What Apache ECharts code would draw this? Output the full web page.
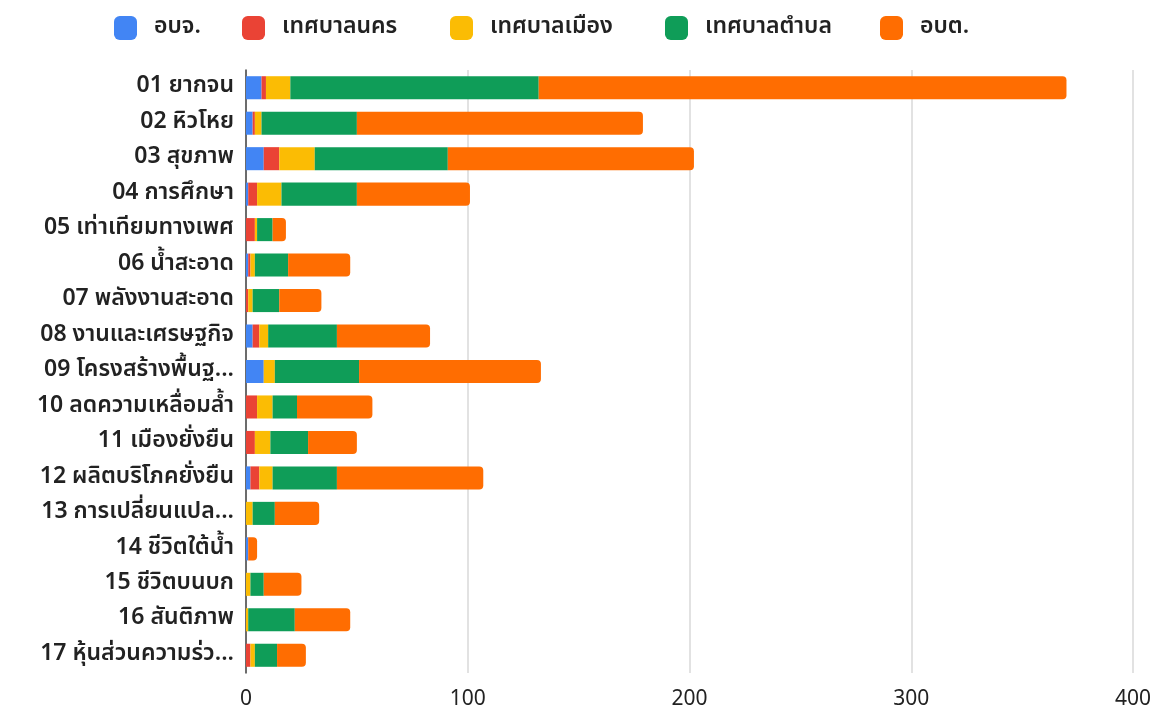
<!DOCTYPE html>
<html>
<head>
<meta charset="utf-8">
<script src="https://cdn.jsdelivr.net/npm/echarts@6/dist/echarts.min.js"></script>
<style>html,body{margin:0;padding:0;background:#fff}#c{width:1157px;height:717px}</style>
</head>
<body>
<div id="c"></div>
<script>
const categories = ["01 ยากจน","02 หิวโหย","03 สุขภาพ","04 การศึกษา","05 เท่าเทียมทางเพศ","06 น้ำสะอาด","07 พลังงานสะอาด","08 งานและเศรษฐกิจ","09 โครงสร้างพื้นฐ...","10 ลดความเหลื่อมล้ำ","11 เมืองยั่งยืน","12 ผลิตบริโภคยั่งยืน","13 การเปลี่ยนแปล...","14 ชีวิตใต้น้ำ","15 ชีวิตบนบก","16 สันติภาพ","17 หุ้นส่วนความร่ว..."];
const seriesNames = ["อบจ.","เทศบาลนคร","เทศบาลเมือง","เทศบาลตำบล","อบต."];
const obj = [7,3,8,1,0,1,0,3,8,0,0,2,0,1,0,0,0];
const tesabanNakhon = [2,1,7,4,4,1,1,3,0,5,4,4,0,0,0,0,2];
const tesabanMueang = [11,3,16,11,1,2,2,4,5,7,7,6,3,0,2,1,2];
const tesabanTambon = [112,43,60,34,7,15,12,31,38,11,17,29,10,0,6,21,10];
const obt = [238,129,111,51,6,28,19,42,82,34,22,66,20,4,17,25,13];
const xTicks = [0,100,200,300,400];
const colors = ["#4285F4","#EA4335","#FBBC04","#0F9D58","#FF6D01"];

const FONT = "'Noto Sans Thai','Noto Sans','DejaVu Sans',sans-serif";
const values = [obj, tesabanNakhon, tesabanMueang, tesabanTambon, obt];
const legendLefts = [109, 237, 445, 660, 875];
const chart = echarts.init(document.getElementById('c'));
chart.setOption({
  animation: false,
  textStyle: {fontFamily: FONT},
  legend: seriesNames.map((n, i) => ({
    top: 11, left: legendLefts[i],
    itemWidth: 23, itemHeight: 24,
    icon: 'roundRect',
    textStyle: {fontSize: 23, color: '#222', fontWeight: 600, fontFamily: FONT, padding: [0,0,0,12]},
    data: [n]
  })),
  grid: {left: 246, right: 24, top: 70, bottom: 44, containLabel: false},
  xAxis: {
    type: 'value', min: xTicks[0], max: xTicks[xTicks.length-1], interval: 100,
    axisLine: {show: false}, axisTick: {show: false},
    splitLine: {lineStyle: {color: '#d9d9d9', width: 1.5}},
    axisLabel: {fontSize: 21, color: '#222', margin: 17, fontFamily: FONT}
  },
  yAxis: {
    type: 'category', data: categories, inverse: true,
    axisLine: {show: true, lineStyle: {color: '#444', width: 1.5}},
    axisTick: {show: false},
    axisLabel: {fontSize: 23, fontWeight: 600, color: '#222', margin: 12, fontFamily: FONT}
  },
  series: seriesNames.map((n, i) => ({
    name: n, type: 'bar', stack: 'total', data: values[i],
    barCategoryGap: '35%',
    itemStyle: {color: colors[i], borderRadius: i === 4 ? [0,4,4,0] : 0}
  }))
});
</script>
</body>
</html>
